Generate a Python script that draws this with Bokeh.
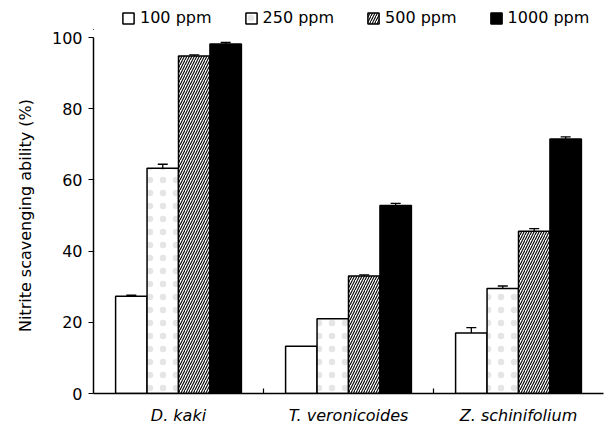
import numpy as np
from bokeh.plotting import figure
from bokeh.layouts import column
from bokeh.models import (ColumnDataSource, Range1d, FixedTicker, Whisker,
                          TeeHead, Legend, LegendItem)
from bokeh.embed import file_html
from bokeh.resources import INLINE

species = ["D. kaki", "T. veronicoides", "Z. schinifolium"]
concentrations = ["100 ppm", "250 ppm", "500 ppm", "1000 ppm"]
vals_100 = [27.3, 13.3, 17.0]
vals_250 = [63.3, 21.0, 29.5]
vals_500 = [94.8, 33.0, 45.6]
vals_1000 = [98.2, 52.8, 71.5]
err_100 = [0.3, 0.0, 1.5]
err_250 = [1.1, 0.0, 0.7]
err_500 = [0.3, 0.3, 0.7]
err_1000 = [0.4, 0.6, 0.6]
y_ticks = [0, 20, 40, 60, 80, 100]

series_vals = [vals_100, vals_250, vals_500, vals_1000]
series_errs = [err_100, err_250, err_500, err_1000]
fill_colors = ["white", "white", "white", "black"]
hatches = [None, ".", "/", None]

FONT = "DejaVu Sans"
FS = "16px"


def bar_style(j):
    kw = dict(fill_color=fill_colors[j], line_color="black", line_width=1.5)
    if hatches[j] == "/":
        kw.update(hatch_pattern="/", hatch_color="black", hatch_scale=5,
                  hatch_weight=1.1)
    elif hatches[j] == ".":
        kw.update(hatch_pattern=".", hatch_color="#999999", hatch_scale=13,
                  hatch_weight=0.5, hatch_alpha=0.25)
    return kw


# ---------- main chart ----------
p = figure(width=604, height=405, output_backend="svg", toolbar_location=None,
           x_range=Range1d(0, 3), y_range=Range1d(0, 100),
           min_border_left=93, min_border_right=1, min_border_top=7,
           min_border_bottom=42)
p.outline_line_color = None
p.grid.grid_line_color = None

# ---------- legend strip (shares the bar sources; bars lie far outside its ranges) ----------
lg = figure(width=604, height=30, output_backend="svg", toolbar_location=None,
            x_axis_type=None, y_axis_type=None,
            x_range=Range1d(50, 53), y_range=Range1d(500, 501), min_border=0)
lg.grid.grid_line_color = None
lg.outline_line_color = None

bar_w = 0.185
base = np.arange(len(species)) + 0.5
items = []
for j, (vals, errs) in enumerate(zip(series_vals, series_errs)):
    x = base + (j - 1.5) * bar_w
    vals = np.array(vals)
    errs = np.array(errs)
    src = ColumnDataSource(dict(x=x, top=vals))
    p.vbar(x="x", top="top", bottom=0, width=bar_w, source=src, **bar_style(j))
    r = lg.vbar(x="x", top="top", bottom=0, width=bar_w, source=src,
                **bar_style(j))
    items.append(LegendItem(label=concentrations[j], renderers=[r]))
    mask = errs > 0
    esrc = ColumnDataSource(dict(x=x[mask], lo=(vals - errs)[mask],
                                 hi=(vals + errs)[mask]))
    w = Whisker(base="x", lower="lo", upper="hi", source=esrc,
                line_color="black", line_width=1.3,
                upper_head=TeeHead(size=10, line_color="black", line_width=1.3),
                lower_head=TeeHead(size=10, line_color="black", line_width=1.3))
    p.add_layout(w)

# the column aligns this strip's frame with the chart's frame (left edge at 93 px)
legend = Legend(items=items, orientation="horizontal", location=(28, 3),
                label_text_font=FONT, label_text_font_size=FS,
                label_text_color="black",
                glyph_width=14, glyph_height=14, label_standoff=5, spacing=32,
                padding=0, margin=0, border_line_color=None,
                background_fill_alpha=0)
lg.add_layout(legend)

# y axis
p.yaxis.ticker = FixedTicker(ticks=y_ticks)
p.yaxis.minor_tick_line_color = None
p.yaxis.major_tick_in = 0
p.yaxis.major_tick_out = 5
p.yaxis.axis_line_width = 1.5
p.yaxis.major_tick_line_width = 1.2
p.yaxis.major_label_text_font = FONT
p.yaxis.major_label_text_font_size = FS
p.yaxis.major_label_text_color = "black"
p.yaxis.major_label_standoff = 6
p.yaxis.axis_label = "Nitrite scavenging ability (%)"
p.yaxis.axis_label_text_font = FONT
p.yaxis.axis_label_text_font_size = FS
p.yaxis.axis_label_text_font_style = "normal"
p.yaxis.axis_label_text_color = "black"
p.yaxis.axis_label_standoff = 14

# x axis
p.xaxis.ticker = FixedTicker(ticks=list(base), minor_ticks=[1, 2])
p.xaxis.major_label_overrides = {float(b): s for b, s in zip(base, species)}
p.xaxis.major_tick_line_color = None
p.xaxis.major_tick_out = 0
p.xaxis.major_tick_in = 0
p.xaxis.minor_tick_in = 5
p.xaxis.minor_tick_out = 0
p.xaxis.minor_tick_line_width = 1.2
p.xaxis.axis_line_width = 1.5
p.xaxis.major_label_text_font = FONT
p.xaxis.major_label_text_font_size = FS
p.xaxis.major_label_text_font_style = "italic"
p.xaxis.major_label_text_color = "black"
p.xaxis.major_label_standoff = 12

layout = column(lg, p, spacing=0)
open("out.html", "w").write(file_html(layout, INLINE))
